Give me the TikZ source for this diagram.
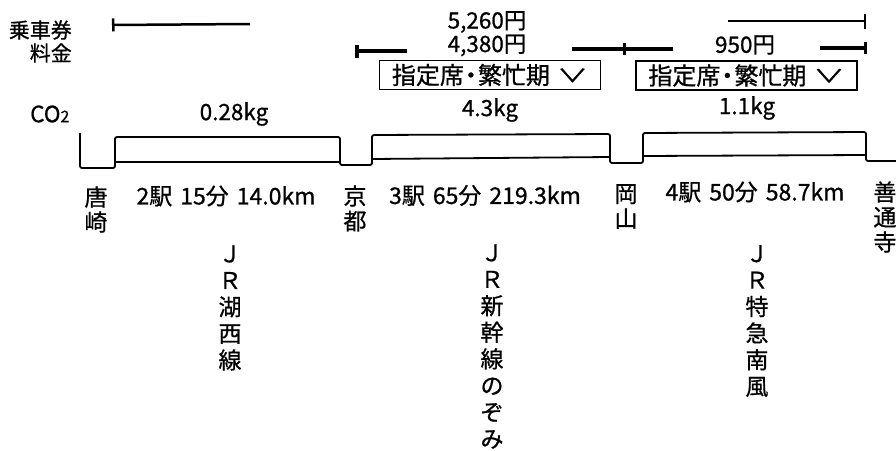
\documentclass[tikz,border=0pt]{standalone}
\usepackage{fontspec}
\setmainfont{Noto Sans CJK JP}[FakeBold=0.8]
\usetikzlibrary{arrows.meta}
\begin{document}
\begin{tikzpicture}[x=1pt,y=-1pt,
    track/.style={line width=1.8pt,rounded corners=2pt},
    farebar/.style={line width=2.5pt},
    feebar/.style={line width=3.5pt},
    seatbox/.style={draw,line width=1.2pt,minimum width=221pt,minimum height=29pt,inner sep=0pt,font=\fontsize{24}{24}\selectfont},
    station/.style={align=center,inner sep=0pt,font=\fontsize{23}{25}\selectfont},
    linename/.style={align=center,inner sep=0pt,font=\fontsize{23}{26.6}\selectfont},
    lbl/.style={inner sep=0pt,font=\fontsize{22.5}{22.5}\selectfont}]

    \useasboundingbox (0,0) rectangle (896,450);

    % row labels
    \node [lbl,anchor=east,font=\fontsize{21}{21}\selectfont] (ticket) at (72,30) {乗車券};
    \node [lbl,anchor=east,font=\fontsize{21}{21}\selectfont] (fee) at (72,53) {料金};
    \node [lbl,anchor=west] (co2) at (30,114) {CO{\fontsize{16}{16}\selectfont 2}};

    % fares
    \node [lbl] (f5260) at (487,22) {5,260円};
    \node [lbl] (f4380) at (487,45.5) {4,380円};
    \node [lbl] (f950) at (745,45) {950円};

    \coordinate (t1a) at (112,25); \coordinate (t1b) at (250,24);
    \coordinate (t2a) at (728,21); \coordinate (t2b) at (866,21);
    \draw[farebar,{Bar[width=13pt]}-] (t1a) -- (t1b);
    \draw[farebar,-{Bar[width=15pt]}] (t2a) -- (t2b);

    \coordinate (s1a) at (355,51); \coordinate (s1b) at (407,51);
    \coordinate (s2a) at (572,49); \coordinate (s2b) at (626,49);
    \coordinate (s3a) at (673,49); \coordinate (s3b) at (820,48);
    \coordinate (s3c) at (867,48);
    \draw[feebar,{Bar[width=13pt]}-] (s1a) -- (s1b);
    \draw[feebar,-{Bar[width=12pt]}] (s2a) -- (s2b);
    \draw[feebar] (s2b) -- (s3a);
    \draw[feebar,-{Bar[width=12pt]}] (s3b) -- (s3c);

    % seat boxes
    \node [seatbox] (box1) at (490,75) {指定席{\kern-5pt}・{\kern-5pt}繁忙期\hspace{7pt}\raisebox{2pt}{\scalebox{1.3}[0.75]{∨}}};
    \node [seatbox] (box2) at (746.5,75.5) {指定席{\kern-5pt}・{\kern-5pt}繁忙期\hspace{7pt}\raisebox{2pt}{\scalebox{1.3}[0.75]{∨}}};

    % co2 values
    \node [lbl] (c1) at (234,114) {0.28kg};
    \node [lbl] (c2) at (490,110) {4.3kg};
    \node [lbl] (c3) at (747,108) {1.1kg};

    % track
    \draw[track] (80,133) -- (80,168) -- (115,168) -- (115,137) -- (340,137) -- (340,165)
        -- (372,165) -- (372,135) -- (610,134) -- (610,163) -- (643,163) -- (643,133)
        -- (866,132) -- (866,161) -- (896,161);
    \draw[track] (115,162) -- (340,162);
    \draw[track] (372,159) -- (610,157);
    \draw[track] (643,156) -- (866,155);

    % stations
    \node [station] (karasaki) at (96,209.5) {唐\\崎};
    \node [station] (kyoto) at (355,208.5) {京\\都};
    \node [station] (okayama) at (626,206.5) {岡\\山};
    \node [station] (zentsuji) at (885,217) {善\\通\\寺};

    % sections
    \node [lbl,font=\fontsize{23}{23}\selectfont] (sec1) at (226,196) {2駅\hspace{8pt}15分\hspace{8pt}14.0km};
    \node [lbl,font=\fontsize{23}{23}\selectfont] (sec2) at (485,195.5) {3駅\hspace{8pt}65分\hspace{8pt}219.3km};
    \node [lbl,font=\fontsize{23}{23}\selectfont] (sec3) at (755,192) {4駅\hspace{8pt}50分\hspace{8pt}58.7km};

    \node [linename] (kosei) at (230,308) {Ｊ\\Ｒ\\湖\\西\\線};
    \node [linename] (nozomi) at (492,346.5) {Ｊ\\Ｒ\\新\\幹\\線\\の\\ぞ\\み};
    \node [linename] (nanpu) at (757,321) {Ｊ\\Ｒ\\特\\急\\南\\風};

\end{tikzpicture}
\end{document}
